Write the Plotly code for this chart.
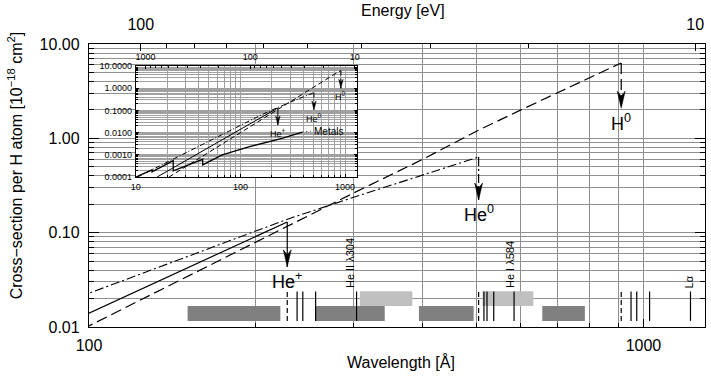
import numpy as np
import plotly.graph_objects as go

HC = 12398.42  # eV * Angstrom, converts wavelength <-> photon energy

# ---------------------------------------------------------------------------
# Photoionisation cross-sections per H atom [1e-18 cm^2] against wavelength [Å]
# ---------------------------------------------------------------------------
h0_wl = [20.8, 50, 100, 150, 200, 228, 300, 400, 504, 600, 700, 800, 911.8]
h0_sig = [1.0e-4, 0.00133, 0.0103, 0.0341, 0.0796, 0.117, 0.263, 0.60, 1.22, 1.99, 3.06, 4.40, 6.3]

he0_wl = [10.4, 20, 50, 100, 150, 200, 228, 300, 400, 504.3]
he0_sig = [1.0e-4, 4.8e-4, 0.0043, 0.0228, 0.0554, 0.104, 0.139, 0.237, 0.41, 0.634]

hep_wl = [16, 30, 50, 100, 150, 200, 227.8]
hep_sig = [1.0e-4, 5.4e-4, 0.00215, 0.014, 0.0423, 0.093, 0.130]

met_wl = [10, 14.3, 14.3, 22.8, 22.8, 43.6, 43.6, 67, 120, 250, 390]
met_sig = [1.0e-4, 2.1e-4, 1.7e-4, 5.5e-4, 1.9e-4, 6.3e-4, 3.5e-4, 9.9e-4, 2.3e-3, 5.5e-3, 1.05e-2]
met_leader_wl = [390, 470]
met_leader_sig = [1.05e-2, 1.15e-2]

# ionisation edges: name, wavelength, cross-section at the edge, arrow tips
edge_names = ["H<sup>0</sup>", "He<sup>0</sup>", "He<sup>+</sup>"]
edge_wl = [911.8, 504.3, 227.8]
edge_sig = [6.3, 0.634, 0.130]
edge_tip = [2.09, 0.222, 0.0435]
inset_edge_tip = [0.99, 0.105, 0.022]

# emission lines and passbands along the bottom
heii_wl = [237.3, 243.0, 256.3, 303.8]
hei_wl = [515.6, 522.2, 537.0, 584.3]
hi_wl = [949.7, 972.5, 1025.7, 1215.7]
line_names = ["He II λ304", "He I λ584", "Lα"]
line_name_wl = [303.8, 584.3, 1215.7]

dark_lo = [150.6, 255.8, 393.6, 657]
dark_hi = [221.4, 341.5, 494, 784]
light_lo = [308, 512.5]
light_hi = [383, 633]

# tick labels
main_y_ticks = [0.01, 0.1, 1, 10]
main_y_text = ["0.01", "0.10", "1.00", "10.00"]
main_x_ticks = [100, 1000]
main_x_text = ["100", "1000"]
energy_major = [100, 10]
energy_minor = [90, 80, 70, 60, 50, 40, 30, 20]
inset_y_ticks = [1e-4, 1e-3, 1e-2, 1e-1, 1, 10]
inset_y_text = ["0.0001", "0.0010", "0.0100", "0.1000", "1.0000", "10.0000"]
inset_x_ticks = [10, 100, 1000]
inset_energy = [1000, 100, 10]

# ---------------------------------------------------------------------------
# geometry and style
# ---------------------------------------------------------------------------
W, H = 711, 376
M_L, M_R, M_T, M_B = 89, 3, 44, 49
X_RANGE = [2.0, 3.111]
Y_RANGE = [-2.0, 1.0]
IX_RANGE = [1.0, 3.111]
IY_RANGE = [-4.0, 1.0]
IDOM_X = [0.0759, 0.4346]
IDOM_Y = [0.530, 0.922]

PW, PH = W - M_L - M_R, H - M_T - M_B
px_x = PW / (X_RANGE[1] - X_RANGE[0])          # pixels per decade
px_y = PH / (Y_RANGE[1] - Y_RANGE[0])
ipx_x = PW * (IDOM_X[1] - IDOM_X[0]) / (IX_RANGE[1] - IX_RANGE[0])
ipx_y = PH * (IDOM_Y[1] - IDOM_Y[0]) / (IY_RANGE[1] - IY_RANGE[0])

FONT = "Liberation Sans, Arial, Helvetica, sans-serif"
GRID = "#8f8f8f"
IGRID = "#a0a0a0"
DASH = "11px,5px"
DASHDOT = "9px,3px,2px,3px"
IDASH = "5px,3px"
IDASHDOT = "5px,2px,1px,2px"


def minor_vals(lo_exp, hi_exp):
    return [k * 10.0 ** e for e in range(lo_exp, hi_exp) for k in range(2, 10)]


def head(wl, tip, ppx, ppy, half_w, length, notch):
    """Filled arrowhead pointing down with its tip at (wl, tip)."""
    lx, ly = np.log10(wl), np.log10(tip)
    xs = np.array([lx, lx - half_w / ppx, lx, lx + half_w / ppx, lx])
    ys = np.array([ly, ly + length / ppy, ly + notch / ppy, ly + length / ppy, ly])
    return 10 ** xs, 10 ** ys


def rects(lo, hi, y0, y1):
    xs, ys = [], []
    for a, b in zip(lo, hi):
        xs += [a, b, b, a, a, None]
        ys += [y0, y0, y1, y1, y0, None]
    return xs, ys


fig = go.Figure()
ax_main = dict(xaxis="x", yaxis="y")
ax_ins = dict(xaxis="x3", yaxis="y3")

# white backing for the inset, laid over the main grid
bx = [10 ** (X_RANGE[0] + d * (X_RANGE[1] - X_RANGE[0])) for d in (IDOM_X[0], IDOM_X[1])]
by = [10 ** (Y_RANGE[0] + d * (Y_RANGE[1] - Y_RANGE[0])) for d in (IDOM_Y[0], IDOM_Y[1])]
fig.add_trace(go.Scatter(x=[bx[0], bx[1], bx[1], bx[0], bx[0]], y=[by[0], by[0], by[1], by[1], by[0]],
                         mode="lines", fill="toself", fillcolor="white", line=dict(width=0),
                         hoverinfo="skip", **ax_main))

# passbands
for lo, hi, y0, y1, col in [(dark_lo, dark_hi, 0.01155, 0.01667, "#808080"),
                            (light_lo, light_hi, 0.01667, 0.0240, "#c0c0c0")]:
    xs, ys = rects(lo, hi, y0, y1)
    fig.add_trace(go.Scatter(x=xs, y=ys, mode="lines", fill="toself", fillcolor=col,
                             line=dict(width=0), hoverinfo="skip", **ax_main))

# emission lines and edge markers
L0, L1 = 0.0116, 0.0238
xs, ys = [], []
for w in heii_wl + hei_wl + hi_wl:
    xs += [w, w, None]
    ys += [L0, L1, None]
fig.add_trace(go.Scatter(x=xs, y=ys, mode="lines", line=dict(color="black", width=1.2), **ax_main))
xs, ys = [], []
for w in edge_wl:
    xs += [w, w, None]
    ys += [L0, L1, None]
fig.add_trace(go.Scatter(x=xs, y=ys, mode="lines", line=dict(color="black", width=1.2, dash="5px,3px"), **ax_main))

# cross-section curves (main panel)
fig.add_trace(go.Scatter(x=h0_wl, y=h0_sig, mode="lines", line=dict(color="black", width=1.2, dash=DASH), **ax_main))
fig.add_trace(go.Scatter(x=he0_wl, y=he0_sig, mode="lines", line=dict(color="black", width=1.1, dash=DASHDOT), **ax_main))
fig.add_trace(go.Scatter(x=hep_wl, y=hep_sig, mode="lines", line=dict(color="black", width=1.2), **ax_main))

# edge arrows (main panel)
shaft_dash = [DASH, DASHDOT, "solid"]
for w, s, t, d in zip(edge_wl, edge_sig, edge_tip, shaft_dash):
    fig.add_trace(go.Scatter(x=[w, w], y=[s, t], mode="lines",
                             line=dict(color="black", width=1.2, dash=d), **ax_main))
    hx, hy = head(w, t, px_x, px_y, 4.0, 17, 12)
    fig.add_trace(go.Scatter(x=hx, y=hy, mode="lines", fill="toself", fillcolor="black",
                             line=dict(color="black", width=0.5), **ax_main))

# inset curves
fig.add_trace(go.Scatter(x=h0_wl, y=h0_sig, mode="lines", line=dict(color="black", width=1, dash=IDASH), **ax_ins))
fig.add_trace(go.Scatter(x=he0_wl, y=he0_sig, mode="lines", line=dict(color="black", width=1, dash=IDASHDOT), **ax_ins))
fig.add_trace(go.Scatter(x=hep_wl, y=hep_sig, mode="lines", line=dict(color="black", width=1), **ax_ins))
fig.add_trace(go.Scatter(x=met_wl, y=met_sig, mode="lines", line=dict(color="black", width=1.3), **ax_ins))
fig.add_trace(go.Scatter(x=met_leader_wl, y=met_leader_sig, mode="lines",
                         line=dict(color="black", width=1, dash="1px,3px"), **ax_ins))
ishaft = [IDASH, IDASHDOT, "solid"]
for w, s, t, d in zip(edge_wl, edge_sig, inset_edge_tip, ishaft):
    fig.add_trace(go.Scatter(x=[w, w], y=[s, t], mode="lines",
                             line=dict(color="black", width=1, dash=d), **ax_ins))
    hx, hy = head(w, t, ipx_x, ipx_y, 2.2, 9, 6)
    fig.add_trace(go.Scatter(x=hx, y=hy, mode="lines", fill="toself", fillcolor="black",
                             line=dict(color="black", width=0.5), **ax_ins))

# empty traces that carry the two energy axes
fig.add_trace(go.Scatter(x=[], y=[], xaxis="x2", yaxis="y"))
fig.add_trace(go.Scatter(x=[], y=[], xaxis="x4", yaxis="y3"))
fig.update_traces(showlegend=False, hoverinfo="skip")

ann = []
# species labels below the arrows
for name, w, t in zip(edge_names, edge_wl, edge_tip):
    ann.append(dict(x=np.log10(w), y=np.log10(t), xref="x", yref="y", text=name, showarrow=False,
                    xanchor="center", yanchor="middle", yshift=-14, font=dict(size=18)))
for name, w, t in zip(edge_names, edge_wl, inset_edge_tip):
    ann.append(dict(x=np.log10(w), y=np.log10(t), xref="x3", yref="y3", text=name, showarrow=False,
                    xanchor="center", yanchor="middle", yshift=-8, font=dict(size=9)))
ann.append(dict(x=np.log10(met_leader_wl[1]), y=np.log10(met_leader_sig[1]), xref="x3", yref="y3",
                text="Metals", showarrow=False, xanchor="left", yanchor="middle", xshift=1,
                font=dict(size=10)))
# emission line names
for name, w, dx in zip(line_names, line_name_wl, [-6, -4, -2]):
    ann.append(dict(x=np.log10(w), y=np.log10(L1), xref="x", yref="y", text=name, showarrow=False,
                    textangle=-90, xanchor="center", yanchor="bottom", xshift=dx, yshift=1,
                    font=dict(size=11)))
# axis titles
ann.append(dict(x=(15 - M_L) / PW, y=(H - M_B - 165) / PH, xref="paper", yref="paper",
                text="Cross−section per H atom [10<sup>−18</sup> cm<sup>2</sup>]", showarrow=False,
                textangle=-90, xanchor="center", yanchor="middle", font=dict(size=16)))
ann.append(dict(x=(403 - M_L) / PW, y=(H - M_B - 362) / PH, xref="paper", yref="paper",
                text="Wavelength [Å]", showarrow=False, xanchor="center", yanchor="middle",
                font=dict(size=16)))
ann.append(dict(x=(405 - M_L) / PW, y=(H - M_B - 10) / PH, xref="paper", yref="paper",
                text="Energy [eV]", showarrow=False, xanchor="center", yanchor="middle",
                font=dict(size=16)))

line_ax = dict(showline=True, linecolor="black", zeroline=False, tickcolor="black")

fig.update_layout(
    width=W, height=H, margin=dict(l=M_L, r=M_R, t=M_T, b=M_B, pad=0),
    paper_bgcolor="white", plot_bgcolor="white", showlegend=False,
    font=dict(family=FONT, size=16, color="black"),
    annotations=ann,
    xaxis=dict(type="log", range=X_RANGE, domain=[0, 1], anchor="y", linewidth=1.3,
               tickvals=main_x_ticks, ticktext=main_x_text, ticks="inside", ticklen=8,
               showgrid=True, gridcolor=GRID, gridwidth=1, ticklabelstandoff=4,
               minor=dict(tickvals=minor_vals(2, 3), ticks="inside", ticklen=4, tickcolor="black",
                          showgrid=True, gridcolor=GRID, gridwidth=1), **line_ax),
    yaxis=dict(type="log", range=Y_RANGE, domain=[0, 1], anchor="x", linewidth=1.3, mirror="ticks",
               tickvals=main_y_ticks, ticktext=main_y_text, ticks="inside", ticklen=10,
               showgrid=True, gridcolor=GRID, gridwidth=1, ticklabelstandoff=5,
               minor=dict(tickvals=minor_vals(-2, 1), ticks="inside", ticklen=5, tickcolor="black",
                          showgrid=True, gridcolor=GRID, gridwidth=1), **line_ax),
    xaxis2=dict(type="log", range=X_RANGE, overlaying="x", anchor="y", side="top", linewidth=1.3,
                tickvals=[HC / e for e in energy_major], ticktext=[str(e) for e in energy_major],
                ticks="inside", ticklen=7, showgrid=False, ticklabelstandoff=6,
                minor=dict(tickvals=[HC / e for e in energy_minor], ticks="inside", ticklen=4,
                           tickcolor="black", showgrid=False), **line_ax),
    xaxis3=dict(type="log", range=IX_RANGE, domain=IDOM_X, anchor="y3", linewidth=1,
                tickvals=inset_x_ticks, ticktext=[str(v) for v in inset_x_ticks],
                ticks="inside", ticklen=3, showgrid=True, gridcolor=IGRID, gridwidth=1,
                tickfont=dict(size=9), ticklabelstandoff=1,
                minor=dict(tickvals=minor_vals(1, 3), ticks="inside", ticklen=2, tickcolor="black",
                           showgrid=True, gridcolor=IGRID, gridwidth=1), **line_ax),
    yaxis3=dict(type="log", range=IY_RANGE, domain=IDOM_Y, anchor="x3", linewidth=1, mirror="ticks",
                tickvals=inset_y_ticks, ticktext=inset_y_text, ticks="inside", ticklen=3,
                showgrid=True, gridcolor=IGRID, gridwidth=1, tickfont=dict(size=9),
                ticklabelstandoff=1,
                minor=dict(tickvals=minor_vals(-4, 1), ticks="inside", ticklen=2, tickcolor="black",
                           showgrid=True, gridcolor=IGRID, gridwidth=1), **line_ax),
    xaxis4=dict(type="log", range=IX_RANGE, overlaying="x3", anchor="y3", side="top", linewidth=1,
                tickvals=[HC / e for e in inset_energy], ticktext=[str(e) for e in inset_energy],
                ticks="inside", ticklen=3, showgrid=False, tickfont=dict(size=9),
                ticklabelstandoff=1,
                minor=dict(tickvals=[HC / (k * 10 ** e) for e in (1, 2) for k in range(2, 10)],
                           ticks="inside", ticklen=2, tickcolor="black", showgrid=False), **line_ax),
)

fig.write_html("out.html")
